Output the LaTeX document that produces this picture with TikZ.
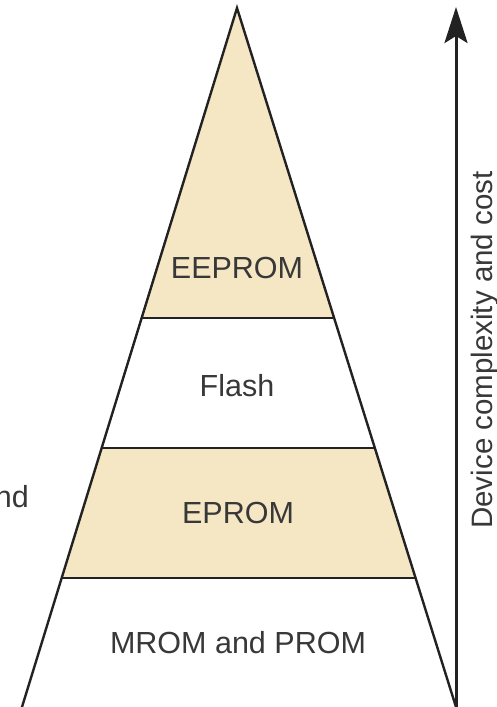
\documentclass[tikz,border=0pt]{standalone}
\usepackage{fontspec}
\setmainfont{Liberation Sans}
\usetikzlibrary{calc,arrows.meta}
\definecolor{bandfill}{HTML}{F6E7C4}
\definecolor{ink}{HTML}{222222}
\definecolor{txt}{HTML}{383838}
\tikzset{
  edge/.style={draw=ink, line width=2.4pt, line join=miter},
  tier/.style={font=\fontsize{30.5}{36}\selectfont, text=txt, inner sep=0pt, anchor=base},
  axislabel/.style={font=\fontsize{29.5}{36}\selectfont, text=txt, inner sep=0pt},
}
\begin{document}
\begin{tikzpicture}[x=1pt,y=-1pt]
  \useasboundingbox (0,0) rectangle (496,707);
  \clip (0,0) rectangle (496,707);
  \fill[white] (0,0) rectangle (496,707);

  % pyramid outline points
  \coordinate (apex) at (237,8);
  \coordinate (bl) at (22,707);
  \coordinate (br) at (456,707);
  \coordinate (l1) at ($(apex)!0.4435!(bl)$);
  \coordinate (r1) at ($(apex)!0.4435!(br)$);
  \coordinate (l2) at ($(apex)!0.6295!(bl)$);
  \coordinate (r2) at ($(apex)!0.6295!(br)$);
  \coordinate (l3) at ($(apex)!0.8155!(bl)$);
  \coordinate (r3) at ($(apex)!0.8155!(br)$);
  \coordinate (lb) at ($(apex)!1.02!(bl)$);
  \coordinate (rb) at ($(apex)!1.02!(br)$);

  % shaded tiers
  \fill[bandfill] (apex) -- (r1) -- (l1) -- cycle;
  \fill[bandfill] (l2) -- (r2) -- (r3) -- (l3) -- cycle;

  % tier dividers and sides
  \draw[edge] (l1) -- (r1);
  \draw[edge] (l2) -- (r2);
  \draw[edge] (l3) -- (r3);
  \draw[edge] (lb) -- (apex) -- (rb);

  % tier labels
  \node[tier] (eeprom) at (237,278) {EEPROM};
  \node[tier] (flash)  at (237,396) {Flash};
  \node[tier] (eprom)  at (238,523) {EPROM};
  \node[tier] (mrom)   at (238,653) {MROM and PROM};

  % side text cut by the left edge
  \node[tier, anchor=base east] (sidenote) at (29,507) {nd};

  % axis arrow
  \coordinate (axisfoot) at (456,712);
  \coordinate (axistip) at (456,7);
  \draw[draw=ink, line width=3pt, -{Stealth[length=36pt,width=23pt,inset=7pt]}] (axisfoot) -- (axistip);
  \node[axislabel, rotate=90, anchor=base] (axistext) at (492,350) {Device complexity and cost};
\end{tikzpicture}
\end{document}
